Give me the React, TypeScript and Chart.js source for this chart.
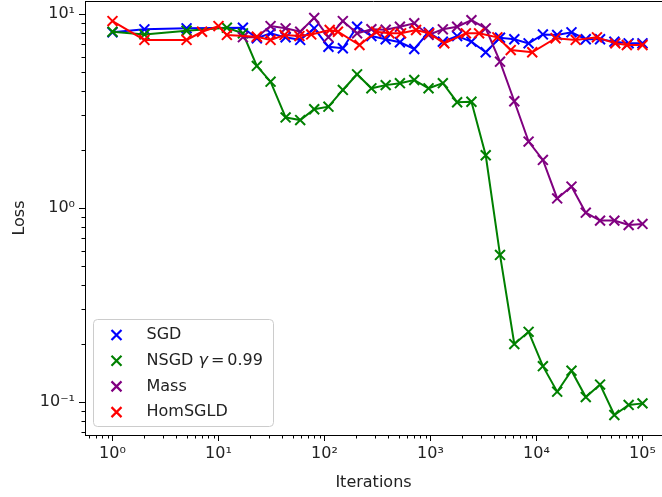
import React, { useEffect, useRef } from 'react';
import { Chart, registerables } from 'chart.js';

Chart.register(...registerables);

// ---- data ----
const sgdIters = [1, 2, 5, 17, 23, 31, 43, 59, 80, 109, 149, 203, 277, 378, 515, 703, 959, 1308, 1784, 2434, 3320, 4529, 6178, 8427, 11495, 15680, 21389, 29176, 39799, 54290, 74057, 100000];
const sgdLoss = [8.05, 8.34, 8.44, 8.5, 7.5, 7.95, 7.58, 7.35, 8.44, 6.78, 6.66, 8.6, 7.7, 7.41, 7.15, 6.6, 8.05, 7.2, 7.7, 7.2, 6.35, 7.55, 7.41, 7.06, 7.85, 7.8, 8.05, 7.41, 7.41, 7.2, 7.06, 7.06];

const nsgdIters = [1, 2, 5, 12, 17, 23, 31, 43, 59, 80, 109, 149, 203, 277, 378, 515, 703, 959, 1308, 1784, 2434, 3320, 4529, 6178, 8427, 11495, 15680, 21389, 29176, 39799, 54290, 74057, 100000];
const nsgdLoss = [8.1, 7.85, 8.2, 8.5, 7.95, 5.4, 4.48, 2.93, 2.84, 3.23, 3.33, 4.06, 4.89, 4.14, 4.3, 4.4, 4.57, 4.14, 4.4, 3.51, 3.53, 1.87, 0.573, 0.199, 0.23, 0.153, 0.113, 0.145, 0.106, 0.123, 0.0857, 0.0966, 0.0984];

const massIters = [17, 23, 31, 43, 59, 80, 109, 149, 203, 277, 378, 515, 703, 959, 1308, 1784, 2434, 3320, 4529, 6178, 8427, 11495, 15680, 21389, 29176, 39799, 54290, 74057, 100000];
const massLoss = [7.6, 7.6, 8.67, 8.44, 8.1, 9.55, 7.6, 9.2, 7.95, 8.35, 8.3, 8.6, 8.96, 7.8, 8.34, 8.6, 9.3, 8.44, 5.68, 3.55, 2.2, 1.77, 1.12, 1.29, 0.946, 0.861, 0.861, 0.817, 0.828];

const homIters = [1, 2, 5, 7, 10, 12, 23, 31, 42, 58, 75, 112, 134, 214, 307, 410, 528, 731, 975, 1349, 2157, 2875, 4275, 5714, 9118, 15130, 23450, 37200, 55400, 71200, 100000];
const homLoss = [9.2, 7.35, 7.35, 8.1, 8.67, 7.8, 7.64, 7.35, 7.8, 7.7, 7.85, 8.27, 8.1, 6.92, 8.1, 7.95, 7.95, 8.27, 7.95, 7.06, 7.95, 7.95, 7.58, 6.52, 6.35, 7.5, 7.35, 7.58, 7.06, 6.92, 6.92];

const seriesLabels = ['SGD', 'NSGD γ=0.99', 'Mass', 'HomSGLD'];
const seriesColors = ['#0000ff', '#008000', '#800080', '#ff0000'];

const xTickValues = [1, 10, 100, 1000, 10000, 100000];
const yTickValues = [0.1, 1, 10];
const xRange = [0.5505, 152800];
const yRange = [0.0676, 11.67];

const FONT = '"DejaVu Sans", sans-serif';
const SUP: Record<string, string> = { '0': '⁰', '1': '¹', '2': '²', '3': '³', '4': '⁴', '5': '⁵', '6': '⁶', '7': '⁷', '8': '⁸', '9': '⁹', '-': '⁻' };
const fmtPow = (v: number) => {
  const e = Math.round(Math.log10(v));
  return '10' + String(e).split('').map((c) => SUP[c] || c).join('');
};

export default function App() {
  const ref = useRef<HTMLCanvasElement>(null);

  useEffect(() => {
    document.body.style.margin = '0';
    const canvas = ref.current;
    if (!canvas) return;

    const mk = (i: number, xs: number[], ys: number[], order: number) => ({
      label: seriesLabels[i],
      data: xs.map((x, k) => ({ x, y: ys[k] })),
      borderColor: seriesColors[i],
      backgroundColor: seriesColors[i],
      pointBorderColor: seriesColors[i],
      pointBackgroundColor: seriesColors[i],
      pointStyle: 'crossRot',
      pointRadius: 7,
      pointHoverRadius: 7,
      pointBorderWidth: 2,
      borderWidth: 2,
      showLine: true,
      tension: 0,
      order,
    });

    const minorTicks = {
      id: 'minorTicks',
      afterDraw(chart: any) {
        const { ctx, chartArea: a } = chart;
        const xs = chart.scales.x;
        const ys = chart.scales.y;
        ctx.save();
        ctx.strokeStyle = '#000';
        ctx.lineWidth = 1;
        ctx.beginPath();
        for (let e = -2; e <= 6; e++) {
          for (let m = 2; m <= 9; m++) {
            const v = m * Math.pow(10, e);
            if (v > xs.min && v < xs.max) {
              const px = Math.round(xs.getPixelForValue(v)) + 0.5;
              ctx.moveTo(px, a.bottom);
              ctx.lineTo(px, a.bottom + 3.5);
            }
            if (v > ys.min && v < ys.max) {
              const py = Math.round(ys.getPixelForValue(v)) + 0.5;
              ctx.moveTo(a.left - 3.5, py);
              ctx.lineTo(a.left, py);
            }
          }
        }
        // top spine
        ctx.moveTo(a.left, Math.round(a.top) + 0.5);
        ctx.lineTo(a.right, Math.round(a.top) + 0.5);
        ctx.stroke();
        ctx.restore();
      },
    };

    const legendBox = {
      id: 'legendBox',
      afterDraw(chart: any) {
        const { ctx, chartArea: a } = chart;
        const w = 180;
        const h = 107;
        const x0 = a.left + 8.5;
        const y0 = a.bottom - 8.5 - h;
        ctx.save();
        const r = 4;
        ctx.beginPath();
        ctx.moveTo(x0 + r, y0);
        ctx.lineTo(x0 + w - r, y0);
        ctx.arcTo(x0 + w, y0, x0 + w, y0 + r, r);
        ctx.lineTo(x0 + w, y0 + h - r);
        ctx.arcTo(x0 + w, y0 + h, x0 + w - r, y0 + h, r);
        ctx.lineTo(x0 + r, y0 + h);
        ctx.arcTo(x0, y0 + h, x0, y0 + h - r, r);
        ctx.lineTo(x0, y0 + r);
        ctx.arcTo(x0, y0, x0 + r, y0, r);
        ctx.closePath();
        ctx.fillStyle = 'rgba(255,255,255,0.8)';
        ctx.fill();
        ctx.strokeStyle = '#cccccc';
        ctx.lineWidth = 1;
        ctx.stroke();

        chart.data.datasets.forEach((ds: any, i: number) => {
          const cy = y0 + 15.5 + i * 25.7;
          const mx = x0 + 23;
          const hs = 5;
          ctx.strokeStyle = ds.borderColor;
          ctx.lineWidth = 2.2;
          ctx.beginPath();
          ctx.moveTo(mx - hs, cy - hs);
          ctx.lineTo(mx + hs, cy + hs);
          ctx.moveTo(mx + hs, cy - hs);
          ctx.lineTo(mx - hs, cy + hs);
          ctx.stroke();

          ctx.fillStyle = '#222';
          ctx.textBaseline = 'middle';
          ctx.textAlign = 'left';
          let tx = x0 + 53;
          const label: string = ds.label;
          const gi = label.indexOf('γ');
          ctx.font = `16px ${FONT}`;
          if (gi < 0) {
            ctx.fillText(label, tx, cy);
          } else {
            const pre = label.slice(0, gi);
            const rest = label.slice(gi + 1);
            ctx.fillText(pre, tx, cy);
            tx += ctx.measureText(pre).width;
            ctx.font = `italic 16px ${FONT}`;
            ctx.fillText('γ', tx, cy);
            tx += ctx.measureText('γ').width + 3;
            ctx.font = `16px ${FONT}`;
            const eq = rest.indexOf('=');
            const a1 = rest.slice(0, eq + 1);
            const a2 = rest.slice(eq + 1);
            ctx.fillText(a1, tx, cy);
            tx += ctx.measureText(a1).width + 3;
            ctx.fillText(a2, tx, cy);
          }
        });
        ctx.restore();
      },
    };

    const chart = new Chart(canvas, {
      type: 'line',
      data: {
        datasets: [
          mk(0, sgdIters, sgdLoss, 4),
          mk(1, nsgdIters, nsgdLoss, 3),
          mk(2, massIters, massLoss, 2),
          mk(3, homIters, homLoss, 1),
        ] as any,
      },
      options: {
        animation: false,
        responsive: false,
        maintainAspectRatio: false,
        layout: { autoPadding: false, padding: { top: 1, right: 0, left: 0, bottom: 0 } },
        plugins: {
          legend: { display: false },
          tooltip: { enabled: false },
        },
        scales: {
          x: {
            type: 'logarithmic',
            min: xRange[0],
            max: xRange[1],
            bounds: 'data',
            afterBuildTicks: (s: any) => {
              s.ticks = xTickValues.map((v) => ({ value: v }));
            },
            afterFit: (s: any) => {
              s.height = 62;
              s.paddingLeft = 0;
              s.paddingRight = 0;
            },
            grid: { drawOnChartArea: false, drawTicks: true, tickLength: 6, color: '#000', lineWidth: 1 },
            border: { display: true, color: '#000', width: 1 },
            ticks: {
              autoSkip: false,
              maxRotation: 0,
              padding: 3,
              color: '#222',
              font: { family: FONT, size: 16 },
              callback: (v: any) => fmtPow(Number(v)),
            },
            title: {
              display: true,
              text: 'Iterations',
              color: '#222',
              font: { family: FONT, size: 16 },
              padding: { top: 0, bottom: 5 },
            },
          },
          y: {
            type: 'logarithmic',
            min: yRange[0],
            max: yRange[1],
            bounds: 'data',
            afterBuildTicks: (s: any) => {
              s.ticks = yTickValues.map((v) => ({ value: v }));
            },
            afterFit: (s: any) => {
              s.width = 85;
              s.paddingTop = 0;
              s.paddingBottom = 0;
            },
            grid: { drawOnChartArea: false, drawTicks: true, tickLength: 6, color: '#000', lineWidth: 1 },
            border: { display: true, color: '#000', width: 1 },
            ticks: {
              autoSkip: false,
              padding: 4,
              color: '#222',
              font: { family: FONT, size: 16 },
              callback: (v: any) => fmtPow(Number(v)),
            },
            title: {
              display: true,
              text: 'Loss',
              color: '#222',
              font: { family: FONT, size: 16 },
              padding: { top: 10, bottom: 0 },
            },
          },
        },
      } as any,
      plugins: [minorTicks, legendBox],
    });

    return () => chart.destroy();
  }, []);

  return (
    <div style={{ width: 662, height: 497, position: 'relative' }}>
      <canvas ref={ref} width={662} height={497} style={{ display: 'block' }} />
    </div>
  );
}
